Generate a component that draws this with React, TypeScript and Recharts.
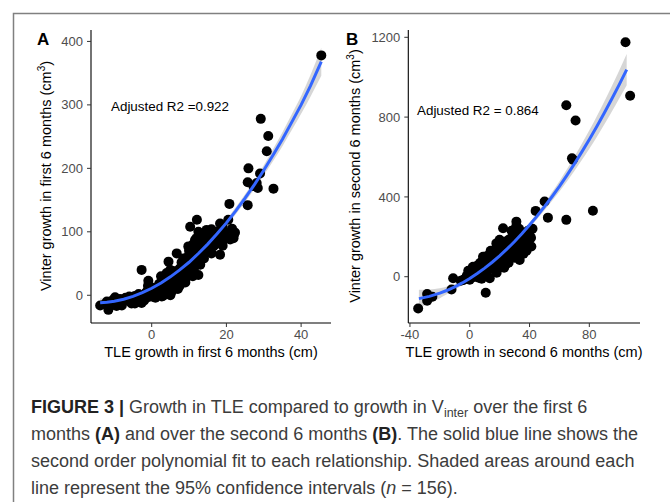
import { ComposedChart, Scatter, Area, XAxis, YAxis } from 'recharts'

// panel A: first 6 months
const pointsA: [number, number][] = [
  [-13.8, -16], [-11.6, -23], [-9.8, -3], [-9.4, -17], [-6.7, -7], [-5.4, -13], [-4.0, -6], [-2.7, -12],
  [-2.7, 40], [-1.3, 6], [-0.9, 23], [0.4, 3], [1.8, 14], [2.7, -2], [3.1, 29], [3.6, 8], [4.0, 35],
  [4.5, 53], [4.9, 19], [5.4, 6], [5.8, 35], [6.7, 66], [7.1, 24], [8.0, 40], [8.5, 58], [9.4, 29],
  [9.8, 45], [9.8, 77], [10.3, 108], [10.7, 66], [11.2, 40], [11.6, 87], [12.1, 119], [12.1, 61],
  [12.5, 32], [12.9, 77], [13.4, 93], [14.3, 72], [14.7, 103], [15.2, 87], [16.1, 98], [16.5, 77],
  [17.4, 90], [18.3, 64], [18.3, 113], [19.2, 87], [20.5, 119], [20.8, 144], [21.9, 90], [22.3, 99],
  [25.7, 142], [25.7, 178], [25.9, 200], [27.2, 172], [28.1, 177], [28.4, 169], [29.0, 192], [29.2, 278],
  [30.8, 227], [31.2, 251], [32.6, 168], [45.4, 378],
  [-12.5, -14], [-12, -10], [-11, -12], [-10.5, -8], [-10, -15], [-9, -10], [-8.5, -6], [-8, -12],
  [-7.5, -9], [-7, -4], [-6, -9], [-6, -2], [-5, -7], [-4.5, -1], [-4, -10], [-3.5, 2], [-3, -4],
  [-2, 0], [-2, -8], [-1.5, 4], [-1, -3], [-0.5, 8], [0, -2], [0.5, 12], [1, 5], [1, -4], [1.5, 9],
  [2, 18], [2, 2], [2.5, 11], [3, -1], [3, 20], [3.5, 14], [4, 6], [4, 25], [4.5, 16], [5, 0], [5, 28],
  [5.5, 12], [6, 22], [6, 38], [6.5, 18], [7, 30], [7, 10], [7.5, 42], [8, 26], [8, 52], [8.5, 35],
  [9, 20], [9, 48], [9.5, 60], [10, 36], [10, 70], [10.5, 52], [11, 30], [11, 80], [11, 62], [11.5, 45],
  [12, 70], [12, 90], [12.5, 55], [13, 82], [13, 48], [13.5, 68], [14, 90], [14, 58], [14.5, 80],
  [15, 95], [15, 70], [15.5, 85], [16, 66], [16.5, 90], [17, 80], [17.5, 100], [18, 84], [18.5, 95],
  [19, 78], [19.5, 100], [20, 92], [21, 88], [21.5, 105], [22, 95], [2.5, 30], [5, 40], [7.5, 15],
  [9.5, 32], [12.5, 100], [13.5, 97], [-1, 15], [0, 5], [-8, -16], [-4.5, -13], [16, 104], [19, 108],
]
const fitAX = [-13.8, -12, -10, -7.5, -5, -2.5, 0, 2.5, 5, 7.5, 10, 12.5, 15, 17.5, 20, 22.5, 25, 27.5, 30, 32.5, 35, 37.5, 40, 42.5, 45.4]
const fitAY = [-11.7, -11, -9.4, -6.3, -1.8, 4, 11, 19.4, 29, 40, 52, 65.8, 80.6, 96.8, 114, 133, 153, 174.4, 197, 221, 246, 272.8, 300, 330, 368]
const fitASe = [7, 6, 5, 4, 3.5, 3.5, 3.5, 3.5, 3.5, 3.5, 3.5, 3.8, 4, 4.5, 5, 5.5, 6, 7, 8, 9.5, 11, 12.5, 14, 17, 22]

// panel B: second 6 months
const pointsB: [number, number][] = [
  [-34.5, -159], [-28.5, -87], [-28.5, -120], [-12.2, -64], [-11.1, -8], [-4.5, -17], [2.2, 50],
  [4.5, 17], [8.9, 100], [10.7, -80], [13.4, -8], [14.5, 117], [17.8, 167], [22.3, 243], [31.2, 276],
  [33.4, 84], [41.2, 151], [40.1, 234], [44.1, 330], [50.1, 377], [52.3, 296], [64.6, 285], [64.6, 859],
  [68.4, 594], [69.0, 586], [70.8, 783], [82.4, 331], [104.2, 1175], [107.3, 907],
  [-25, -100], [-6, -20], [-3, -10], [-2, 5], [0, -15], [0, 10], [1, 25], [1, -5], [2, 15], [3, 35],
  [3, 0], [4, 45], [4, 20], [5, 10], [5, 55], [6, 30], [6, -5], [7, 40], [7, 70], [8, 20], [8, 55],
  [9, 35], [9, 80], [10, 60], [10, 15], [11, 90], [11, 45], [12, 30], [12, 70], [12, 105], [13, 55],
  [13, 85], [14, 40], [14, 95], [15, 65], [15, 120], [16, 80], [16, 50], [16, 105], [17, 135], [17, 70],
  [18, 90], [18, 115], [18, 55], [19, 150], [19, 100], [20, 75], [20, 125], [20, 160], [21, 95],
  [21, 140], [22, 110], [22, 170], [22, 80], [23, 130], [23, 155], [23, 100], [24, 175], [24, 115],
  [24, 145], [25, 90], [25, 130], [25, 160], [26, 185], [26, 120], [26, 150], [27, 100], [27, 140],
  [27, 170], [28, 125], [28, 195], [28, 160], [29, 150], [29, 110], [29, 180], [30, 165], [30, 135],
  [30, 205], [31, 145], [31, 190], [31, 250], [32, 170], [32, 120], [32, 215], [33, 155], [33, 195],
  [34, 180], [34, 140], [34, 225], [35, 165], [35, 205], [36, 190], [36, 150], [37, 215], [37, 175],
  [38, 200], [38, 160], [39, 230], [39, 185], [40, 210], [41, 195], [42, 240], [36, 115], [38, 130],
  [24, 60], [26, 70], [30, 95], [33, 240], [28, 230], [20, 185], [14, 130], [10, 100], [6, 60], [2, 45],
  [-1, 30], [8, -10], [18, 20], [23, 45],
]
const fitBX = [-34, -27, -20, -15, -10, -5, 0, 5, 10, 15, 20, 25, 30, 35, 40, 45, 50, 55, 60, 65, 70, 75, 80, 85, 90, 95, 100, 105]
const fitBY = [-109.8, -98.7, -82.4, -67.9, -50.8, -31.1, -9, 15.7, 42.8, 72.5, 104.8, 139.5, 176.8, 216.5, 258.8, 303.6, 351, 400.9, 453, 508.1, 565.6, 625.5, 688, 752.9, 820.4, 890.5, 963, 1038]
const fitBSe = [45, 35, 25, 19, 14, 12, 10, 9, 8, 8, 8, 8.5, 9, 10.5, 12, 15, 18, 22, 26, 31, 36, 41, 46, 52, 58, 64, 70, 78]

const xTicksA = [0, 20, 40]
const yTicksA = [0, 100, 200, 300, 400]
const xTicksB = [-40, 0, 40, 80]
const yTicksB = [0, 400, 800, 1200]

const FONT = '"Liberation Sans", Arial, Helvetica, sans-serif'
const tick = { fontSize: 13, fill: '#4d4d4d', fontFamily: FONT }

const dot = (p: any) => <circle cx={p.cx} cy={p.cy} r={5} fill="#000" />
const noDot = () => <g />

interface PanelProps {
  points: [number, number][]
  fx: number[]; fy: number[]; se: number[]
  xDomain: [number, number]; yDomain: [number, number]
  xTicks: number[]; yTicks: number[]
  yAxisWidth: number; right: number
}

function Panel({ points, fx, fy, se, xDomain, yDomain, xTicks, yTicks, yAxisWidth, right }: PanelProps) {
  const pts = points.map(([x, y]) => ({ x, y }))
  const fit = fx.map((x, i) => ({ x, y: fy[i], band: [fy[i] - se[i], fy[i] + se[i]] }))
  return (
    <ComposedChart width={340} height={370} data={fit} margin={{ top: 30, right, bottom: 0, left: 0 }}>
      <XAxis type="number" dataKey="x" domain={xDomain} ticks={xTicks} allowDataOverflow
        height={47} tick={tick} tickSize={4} tickMargin={3}
        axisLine={{ stroke: '#000', strokeWidth: 1.1 }} tickLine={{ stroke: '#333' }} />
      <YAxis type="number" domain={yDomain} ticks={yTicks} allowDataOverflow
        width={yAxisWidth} tick={tick} tickSize={4} tickMargin={4}
        axisLine={{ stroke: '#000', strokeWidth: 1.1 }} tickLine={{ stroke: '#333' }} />
      <Area type="monotone" dataKey="band" stroke="none" fill="#999999" fillOpacity={0.4} isAnimationActive={false} />
      <Scatter data={pts} dataKey="y" shape={dot} isAnimationActive={false} />
      <Scatter data={fit} dataKey="y" shape={noDot} line={{ stroke: '#3366FF', strokeWidth: 3 }}
        lineType="joint" isAnimationActive={false} />
    </ComposedChart>
  )
}

const bold = { color: '#222' }

export default function App() {
  return (
    <div style={{ position: 'absolute', left: 0, top: 0, width: 670, height: 502, background: '#fff', overflow: 'hidden' }}>
      <div style={{ position: 'absolute', left: 0, top: 0 }}>
        <Panel points={pointsA} fx={fitAX} fy={fitAY} se={fitASe} xDomain={[-16.25, 48]} yDomain={[-43.7, 418]}
          xTicks={xTicksA} yTicks={yTicksA} yAxisWidth={91} right={9} />
      </div>
      <div style={{ position: 'absolute', left: 330, top: 0 }}>
        <Panel points={pointsB} fx={fitBX} fy={fitBY} se={fitBSe} xDomain={[-41.1, 113.9]} yDomain={[-232, 1236.6]}
          xTicks={xTicksB} yTicks={yTicksB} yAxisWidth={78.3} right={30} />
      </div>
      <svg width={670} height={502} style={{ position: 'absolute', left: 0, top: 0, pointerEvents: 'none' }}
        fontFamily={FONT}>
        <path d="M13.5 502 V13.5 H670" stroke="#808080" strokeWidth={1.5} fill="none" />
        <text x={37} y={45} fontSize={17} fontWeight="bold">A</text>
        <text x={346} y={45} fontSize={17} fontWeight="bold">B</text>
        <text x={111} y={110.5} fontSize={13.4}>Adjusted R2 =0.922</text>
        <text x={417} y={115} fontSize={13.4}>Adjusted R2 = 0.864</text>
        <text x={211} y={357} fontSize={14.5} textAnchor="middle">TLE growth in first 6 months (cm)</text>
        <text x={524} y={357} fontSize={14.5} textAnchor="middle">TLE growth in second 6 months (cm)</text>
        <text x={51} y={176} fontSize={14.5} textAnchor="middle" transform="rotate(-90 51 176)">
          Vinter growth in first 6 months (cm<tspan dy={-6} fontSize={10}>3</tspan><tspan dy={6}>)</tspan>
        </text>
        <text x={360} y={176} fontSize={14.5} textAnchor="middle" transform="rotate(-90 360 176)">
          Vinter growth in second 6 months (cm<tspan dy={-6} fontSize={10}>3</tspan><tspan dy={6}>)</tspan>
        </text>
      </svg>
      <div style={{ position: 'absolute', left: 31, top: 394, fontFamily: FONT, fontSize: 18, lineHeight: '27px', color: '#3c3c3c', whiteSpace: 'nowrap' }}>
        <div style={{ height: 27 }}><b style={bold}>FIGURE 3 |</b> Growth in TLE compared to growth in V<span style={{ fontSize: 12.5, position: 'relative', top: 4, lineHeight: 0 }}>inter</span> over the first 6</div>
        <div style={{ height: 27 }}>months <b style={bold}>(A)</b> and over the second 6 months <b style={bold}>(B)</b>. The solid blue line shows the</div>
        <div style={{ height: 27 }}>second order polynomial fit to each relationship. Shaded areas around each</div>
        <div style={{ height: 27 }}>line represent the 95% confidence intervals (<i>n</i> = 156).</div>
      </div>
    </div>
  )
}
